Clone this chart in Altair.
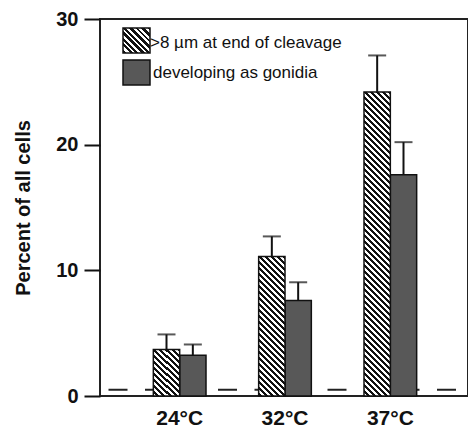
import altair as alt
import pandas as pd

# ---- data ----
temps = ["24°C", "32°C", "37°C"]
series = [">8 µm at end of cleavage", "developing as gonidia"]
hatched_vals = [3.7, 11.1, 24.2]
hatched_upper = [4.9, 12.7, 27.1]
dark_vals = [3.25, 7.6, 17.6]
dark_upper = [4.1, 9.05, 20.2]
baseline_level = 0.5
y_ticks = [0, 10, 20, 30]
y_title = "Percent of all cells"

# ---- layout ----
W, H = 368, 377
YMAX = 30
PX = H / YMAX
BAR_W = 26
FONT = "Liberation Sans"


def hatch(w, h, period=6.0, dark=0.5):
    L = w + h
    t = L / (w * w + h * h)
    stops = []
    pos = 0.0
    while pos < L:
        a = round(pos / L, 5)
        b = round(min((pos + period * dark) / L, 1), 5)
        c = round(min((pos + period) / L, 1), 5)
        stops += [{"offset": a, "color": "#111111"}, {"offset": b, "color": "#111111"},
                  {"offset": b, "color": "#ffffff"}, {"offset": c, "color": "#ffffff"}]
        pos += period
    return {"gradient": "linear", "x1": 1, "y1": 0,
            "x2": round(1 - t * w, 5), "y2": round(t * h, 5), "stops": stops}


rows = []
for i, t in enumerate(temps):
    rows.append({"temp": t, "series": series[0], "value": hatched_vals[i], "upper": hatched_upper[i]})
    rows.append({"temp": t, "series": series[1], "value": dark_vals[i], "upper": dark_upper[i]})
df = pd.DataFrame(rows)

x_enc = alt.X("temp:N", sort=temps, title=None,
              scale=alt.Scale(domain=temps, range=[27, 343], paddingInner=0, paddingOuter=0),
              axis=alt.Axis(ticks=False, domain=False, labelAngle=0, labelFont=FONT,
                            labelFontSize=21, labelFontWeight="bold", labelColor="#111",
                            labelPadding=11))
xo_enc = alt.XOffset("series:N", scale=alt.Scale(domain=series, paddingInner=0, paddingOuter=1))
y_scale = alt.Scale(domain=[0, YMAX], nice=False)
y_axis = alt.Axis(values=y_ticks, domain=False, grid=False, tickSize=16, tickWidth=2,
                  tickColor="#111", labelFont=FONT, labelFontSize=20,
                  labelFontWeight="bold", labelColor="#111", labelPadding=6,
                  titleFont=FONT, titleFontSize=20, titleFontWeight="bold",
                  titleColor="#111", titlePadding=22)

base = alt.Chart(df)

dash = alt.Chart(pd.DataFrame({"level": [baseline_level]})).mark_rule(
    color="#222", strokeWidth=2, strokeDash=[19, 17.5], strokeDashOffset=28
).encode(y=alt.Y("level:Q", scale=y_scale, axis=y_axis, title=y_title),
         x=alt.value(0), x2=alt.value(W))

layers = [dash]

y_enc = alt.Y("value:Q", scale=y_scale, axis=y_axis, title=y_title)

dark_bars = base.transform_filter(alt.datum.series == series[1]).mark_bar(
    fill="#585858", stroke="#111", strokeWidth=1.5
).encode(x=x_enc, xOffset=xo_enc, y=y_enc)
layers.append(dark_bars)

for i, t in enumerate(temps):
    h = hatched_vals[i] * PX
    layer = base.transform_filter(
        (alt.datum.series == series[0]) & (alt.datum.temp == t)
    ).mark_bar(fill=hatch(BAR_W, h), stroke="#111", strokeWidth=1.5).encode(
        x=x_enc, xOffset=xo_enc, y=y_enc)
    layers.append(layer)

err = base.mark_rule(color="#111", strokeWidth=2).encode(
    x=x_enc, xOffset=xo_enc, y=y_enc, y2="upper:Q")
cap = base.mark_tick(color="#111", thickness=2, size=18).encode(
    x=x_enc, xOffset=xo_enc, y=alt.Y("upper:Q", scale=y_scale, axis=y_axis, title=y_title))
layers += [err, cap]

# legend (drawn inside plot)
leg1 = alt.Chart(pd.DataFrame({"label": [series[0]]})).mark_rect(
    fill=hatch(27, 25), stroke="#111", strokeWidth=1.5
).encode(x=alt.value(23), x2=alt.value(50), y=alt.value(9), y2=alt.value(34))
leg2 = alt.Chart(pd.DataFrame({"label": [series[1]]})).mark_rect(
    fill="#585858", stroke="#111", strokeWidth=1.5
).encode(x=alt.value(23), x2=alt.value(50), y=alt.value(41), y2=alt.value(66))
legt1 = alt.Chart(pd.DataFrame({"label": [series[0]]})).mark_text(
    align="left", baseline="alphabetic", font=FONT, fontSize=17, color="#111"
).encode(text="label:N", x=alt.value(50), y=alt.value(29))
legt2 = alt.Chart(pd.DataFrame({"label": [series[1]]})).mark_text(
    align="left", baseline="alphabetic", font=FONT, fontSize=17, color="#111"
).encode(text="label:N", x=alt.value(53), y=alt.value(59))
layers += [leg1, leg2, legt1, legt2]

chart = alt.layer(*layers).properties(
    width=W, height=H,
    autosize=alt.AutoSizeParams(type="none"),
    padding={"left": 92, "top": 11, "right": 0, "bottom": 32},
).configure_view(stroke="#222", strokeWidth=2)

chart.save("out.html", embed_options={"renderer": "svg", "actions": False})
